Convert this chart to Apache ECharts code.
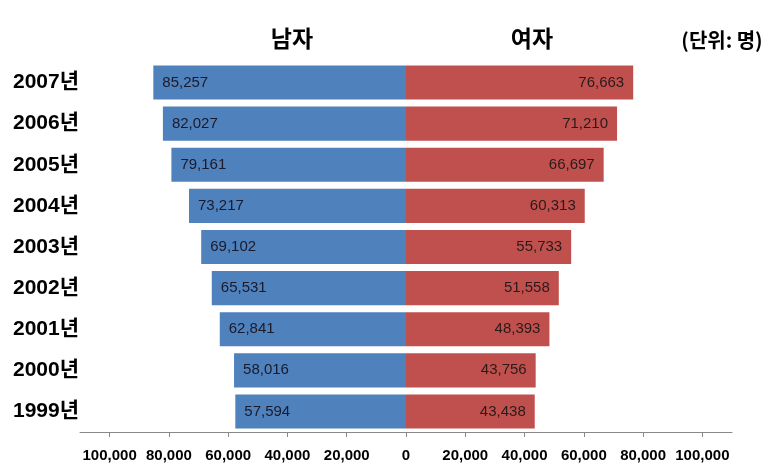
<!DOCTYPE html>
<html><head><meta charset="utf-8">
<script src="https://cdn.jsdelivr.net/npm/echarts@6/dist/echarts.min.js"></script>
<style>html,body{margin:0;padding:0;background:#fff}#c{width:784px;height:471px}</style>
</head><body><div id="c"></div>
<script>
const years = ['1999년','2000년','2001년','2002년','2003년','2004년','2005년','2006년','2007년'];
const male = [57594, 58016, 62841, 65531, 69102, 73217, 79161, 82027, 85257];
const female = [43438, 43756, 48393, 51558, 55733, 60313, 66697, 71210, 76663];
const tickValues = [-100000,-80000,-60000,-40000,-20000,0,20000,40000,60000,80000,100000];
const fmt = v => Math.abs(v).toLocaleString('en-US');
const chart = echarts.init(document.getElementById('c'));
const ff = 'Liberation Sans, Noto Sans CJK KR';
chart.setOption({
  animation: false,
  title: [
    {text:'남자', left:287, top:22, textAlign:'center', textStyle:{fontSize:23, fontWeight:'bold', color:'#000', fontFamily:'Noto Sans CJK KR'}},
    {text:'여자', left:527, top:22, textAlign:'center', textStyle:{fontSize:23, fontWeight:'bold', color:'#000', fontFamily:'Noto Sans CJK KR'}},
    {text:'(단위: 명)', left:717, top:25, textAlign:'center', textStyle:{fontSize:20, fontWeight:'bold', color:'#000', fontFamily:'Noto Sans CJK KR'}}
  ],
  grid: {left:80, right:52, top:62, bottom:39},
  xAxis: {
    type:'value', min:-110000, max:110000,
    axisLine:{show:true, lineStyle:{color:'#888'}},
    axisTick:{show:true, customValues:tickValues, length:5, inside:false, lineStyle:{color:'#888'}},
    axisLabel:{customValues:tickValues, formatter:v=>fmt(v), fontSize:15, fontWeight:'bold', color:'#000', margin:16, fontFamily:ff},
    splitLine:{show:false}
  },
  yAxis: {
    type:'category', data:years,
    axisLine:{show:false}, axisTick:{show:false},
    axisLabel:{align:'left', margin:67, fontSize:21, fontWeight:'bold', color:'#000', fontFamily:ff}
  },
  series: [
    {name:'남자', type:'bar', stack:'a', barCategoryGap:'17%', data:male.map(v=>-v),
     itemStyle:{color:'#4F81BD'},
     label:{show:true, position:'insideLeft', distance:9, formatter:p=>fmt(p.value), fontSize:15, color:'#1a1a2a', fontFamily:'Liberation Sans'}},
    {name:'여자', type:'bar', stack:'a', barCategoryGap:'17%', data:female,
     itemStyle:{color:'#C0504D'},
     label:{show:true, position:'insideRight', distance:9, formatter:p=>fmt(p.value), fontSize:15, color:'#2a1a1a', fontFamily:'Liberation Sans'}}
  ]
});
</script></body></html>
